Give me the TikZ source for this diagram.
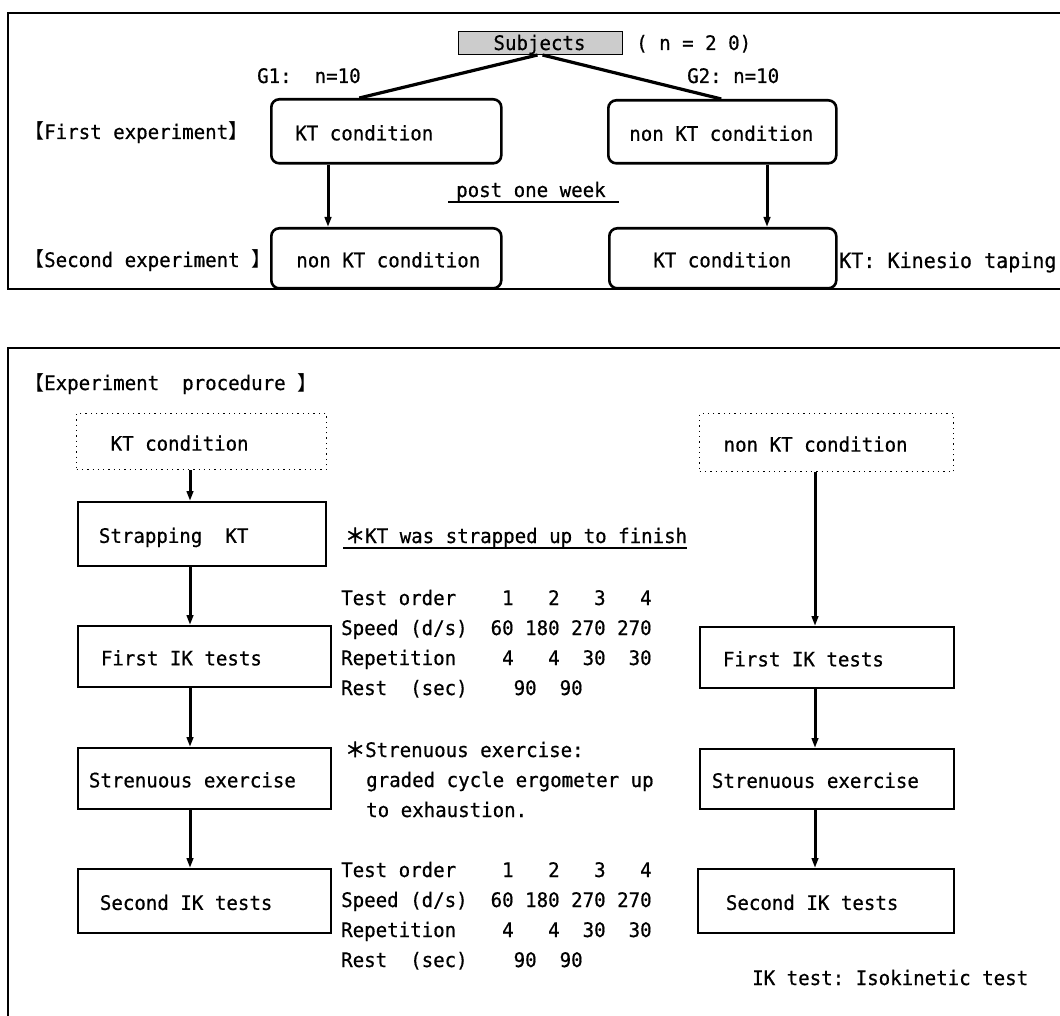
\documentclass[tikz,border=0pt]{standalone}
\usepackage{fontspec}
\setmainfont{DejaVu Sans Mono}[FakeStretch=0.955,FakeBold=0.6]
\newfontfamily\cjk{Noto Sans CJK JP}
\newfontfamily\cjkb{Noto Sans CJK JP}[FakeBold=2.5]
\usetikzlibrary{arrows.meta}
\newcommand{\boxtxt}[3]{\makebox[#1pt][l]{\hspace*{#2pt}#3}}
\begin{document}
\begin{tikzpicture}[x=1pt,y=-1pt,
  font=\fontsize{20}{24}\selectfont,
  txtlbl/.style={anchor=base west, inner sep=0pt},
  boxcell/.style={anchor=north west, inner xsep=0pt, inner ysep=0pt, text height=18pt, text depth=0pt},
  rbox/.style={boxcell, draw, line width=2.6pt, rounded corners=8pt},
  sbox/.style={boxcell, draw, line width=1.8pt},
  dbox/.style={boxcell, draw, line width=1.3pt, dash pattern=on 1.3pt off 4pt},
  flowarr/.style={line width=3pt, -{Triangle[length=10pt,width=6.5pt]}},
  conn/.style={line width=3.2pt},
  panel/.style={draw, line width=1.5pt},
  uline/.style={line width=1.2pt},
]
\clip (0,0) rectangle (1060,1016);
\fill[white] (0,0) rectangle (1060,1016);
% panels
\draw[panel] (8,13) rectangle (1075,289);
\draw[panel] (8,348) rectangle (1075,1030);

% ---------- top panel ----------
\node[sbox, fill=black!20, line width=1pt, minimum height=23pt, text height=14pt] (subj) at (458,31) {\boxtxt{164}{35}{Subjects}};
\node[txtlbl] (n20) at (636,50) {(~n~=~2~0)};
\node[txtlbl] (g1) at (257,83) {G1:~~n=10};
\node[txtlbl] (g2) at (687,83) {G2:~n=10};

\node[rbox, minimum height=64pt] (t1) at (270,98) {\boxtxt{230}{24}{KT~condition}};
\node[rbox, minimum height=63pt] (t2) at (607,99) {\boxtxt{228}{21}{non~KT~condition}};
\node[rbox, minimum height=60pt] (t3) at (270,227) {\boxtxt{230}{25}{non~KT~condition}};
\node[rbox, minimum height=60pt] (t4) at (608,227) {\boxtxt{227}{44}{KT~condition}};

\node[txtlbl] (fe) at (24,139) {{\cjk 【}First~experiment{\cjk 】}};
\node[txtlbl] (se) at (24,267) {{\cjk 【}Second~experiment~{\cjk 】}};
\node[txtlbl] (pw) at (456,197) {post~one~week};
\draw[uline] ([xshift=-8pt,yshift=-5pt]pw.base west) -- ([xshift=13pt,yshift=-5pt]pw.base east);
\node[txtlbl, font=\fontsize{21}{25}\selectfont] (kt) at (839,268) {KT:~Kinesio~taping};

\coordinate (axA) at (328,0);
\coordinate (axB) at (767,0);
\draw[conn] ([xshift=-3pt]subj.south) -- ([xshift=-27pt]t1.north);
\draw[conn] ([xshift=2pt]subj.south) -- ([xshift=-1pt]t2.north);
\draw[flowarr] (t1.south -| axA) -- (t3.north -| axA);
\draw[flowarr] (t2.south -| axB) -- (t4.north -| axB);

% ---------- bottom panel ----------
\node[txtlbl] (ep) at (24,390) {{\cjk 【}Experiment~~procedure~{\cjk 】}};

\node[dbox, minimum height=56pt] (d1) at (76,413) {\boxtxt{250}{34}{KT~condition}};
\node[sbox, minimum height=64pt] (b1) at (77,501) {\boxtxt{248}{21}{Strapping~~KT}};
\node[sbox, minimum height=61pt] (b2) at (77,625) {\boxtxt{253}{23}{First~IK~tests}};
\node[sbox, minimum height=61pt] (b3) at (77,747) {\boxtxt{253}{11}{Strenuous~exercise}};
\node[sbox, minimum height=64pt] (b4) at (77,868) {\boxtxt{253}{22}{Second~IK~tests}};

\node[dbox, minimum height=58pt] (d2) at (699,413) {\boxtxt{254}{24}{non~KT~condition}};
\node[sbox, minimum height=61pt] (r1) at (699,626) {\boxtxt{254}{23}{First~IK~tests}};
\node[sbox, minimum height=60pt] (r2) at (699,748) {\boxtxt{254}{12}{Strenuous~exercise}};
\node[sbox, minimum height=64pt] (r3) at (697,868) {\boxtxt{256}{28}{Second~IK~tests}};

\coordinate (axL) at (190,0);
\coordinate (axR) at (815,0);
\draw[flowarr] (d1.south -| axL) -- (b1.north -| axL);
\draw[flowarr] (b1.south -| axL) -- (b2.north -| axL);
\draw[flowarr] (b2.south -| axL) -- (b3.north -| axL);
\draw[flowarr] (b3.south -| axL) -- (b4.north -| axL);
\draw[flowarr] (d2.south -| axR) -- (r1.north -| axR);
\draw[flowarr] (r1.south -| axR) -- (r2.north -| axR);
\draw[flowarr] (r2.south -| axR) -- (r3.north -| axR);

\node[txtlbl] (note1) at (345,543) {{\cjkb ＊}KT~was~strapped~up~to~finish};
\draw[uline] ([xshift=-2pt,yshift=-5pt]note1.base west) -- ([yshift=-5pt]note1.base east);

\node[txtlbl] (a1) at (341,605) {Test~order~~~~1~~~2~~~3~~~4};
\node[txtlbl] (a2) at (341,635) {Speed~(d/s)~~60~180~270~270};
\node[txtlbl] (a3) at (341,665) {Repetition~~~~4~~~4~~30~~30};
\node[txtlbl] (a4) at (341,695) {Rest~~(sec)~~~~90~~90};

\node[txtlbl] (s1) at (345,757) {{\cjkb ＊}Strenuous~exercise:};
\node[txtlbl] (s2) at (366,787) {graded~cycle~ergometer~up};
\node[txtlbl] (s3) at (366,817) {to~exhaustion.};

\node[txtlbl] (c1) at (341,877) {Test~order~~~~1~~~2~~~3~~~4};
\node[txtlbl] (c2) at (341,907) {Speed~(d/s)~~60~180~270~270};
\node[txtlbl] (c3) at (341,937) {Repetition~~~~4~~~4~~30~~30};
\node[txtlbl] (c4) at (341,967) {Rest~~(sec)~~~~90~~90};

\node[txtlbl] (ik) at (752,985) {IK~test:~Isokinetic~test};
\end{tikzpicture}
\end{document}
